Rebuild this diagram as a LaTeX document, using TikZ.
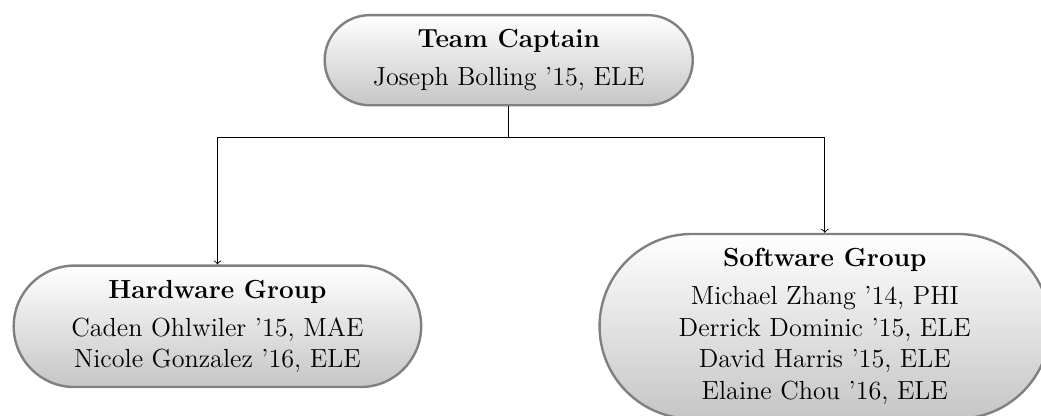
\documentclass[12pt,tikz,border=0pt]{standalone}
\usetikzlibrary{shapes.misc}

\begin{document}
\begin{tikzpicture}[
    edge from parent path=
    {(\tikzparentnode.south) -- ++(0,-.5) -| (\tikzchildnode.north)},
    edge from parent/.style={draw,->},
    level 1/.style={sibling distance=9.79cm, level distance=4.29cm},
    every node/.style={rounded rectangle, draw=gray, line width=1.1pt,
        top color=white, bottom color=gray!45, align=center,
        inner xsep=16.5pt, inner ysep=6.5pt}]

\useasboundingbox (-8.2,.97) rectangle (8.58,-5.72);

\node (captain) {\textbf{Team Captain}\\[3pt] Joseph Bolling '15, ELE}
  child[xshift=.2cm] {node (hardware) {\textbf{Hardware Group}\\[3pt]
        Caden Ohlwiler '15, MAE\\ Nicole Gonzalez '16, ELE}}
  child[xshift=.2cm] {node (software) {\textbf{Software Group}\\[3pt]
        Michael Zhang '14, PHI\\ Derrick Dominic '15, ELE\\
        David Harris '15, ELE\\ Elaine Chou '16, ELE}
    };

\end{tikzpicture}
\end{document}
